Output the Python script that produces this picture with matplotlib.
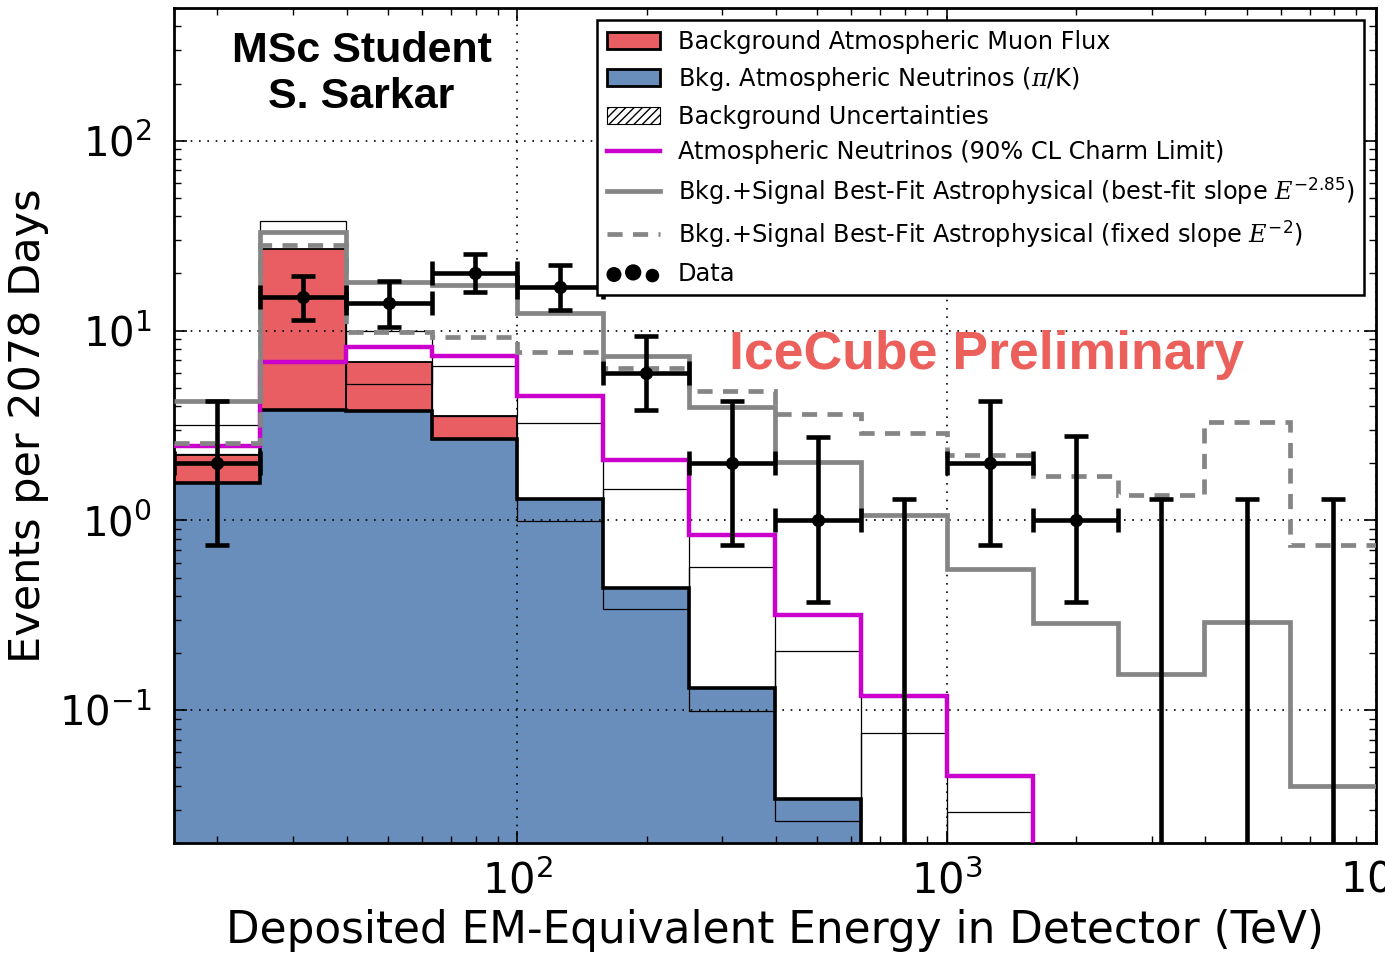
import numpy as np
import matplotlib
matplotlib.use("Agg")
import matplotlib.pyplot as plt
from matplotlib.patches import Patch
from matplotlib.lines import Line2D
from matplotlib.collections import CircleCollection

plt.rcParams['font.family'] = ['DejaVu Sans']
plt.rcParams['mathtext.fontset'] = 'custom'
plt.rcParams['mathtext.rm'] = 'DejaVu Sans'
plt.rcParams['mathtext.it'] = 'DejaVu Serif:italic'
plt.rcParams['mathtext.bf'] = 'DejaVu Sans:bold'

# ---------------- data ----------------
log_edges = [1.2, 1.4, 1.6, 1.8, 2.0, 2.2, 2.4, 2.6, 2.8, 3.0, 3.2, 3.4, 3.6, 3.8, 4.0]

atm_nu = [1.58, 3.83, 3.79, 2.69, 1.29, 0.44, 0.131, 0.034, 0.009, 0.003, 0.001, 0.0005, 0.0002, 0.0001]
muon = [0.64, 23.0, 3.0, 0.87, 0, 0, 0, 0, 0, 0, 0, 0, 0, 0]

unc_lo = [2.25, 6.9, 5.25, 3.56, 0.99, 0.34, 0.099, 0.026, 0.008, 0.003, 0.001, 0.001, 0.001, 0.001]
unc_hi = [3.19, 37.7, 10.0, 6.5, 3.27, 1.46, 0.566, 0.205, 0.076, 0.029, 0.011, 0.005, 0.002, 0.001]

charm = [2.48, 6.87, 8.2, 7.38, 4.5, 2.07, 0.834, 0.318, 0.119, 0.0453, 0.005, 0.002, 0.001, 0.0005]
bestfit = [4.27, 33.0, 18.1, 17.4, 12.3, 7.37, 3.98, 2.02, 1.07, 0.553, 0.288, 0.155, 0.293, 0.040]
fixed_e2 = [2.56, 28.2, 9.8, 9.3, 7.7, 6.33, 4.82, 3.65, 2.9, 2.22, 1.71, 1.36, 3.30, 0.742]

counts = [2, 15, 14, 20, 17, 6, 2, 1, 0, 2, 1, 0, 0, 0]
err_lo = [0.74, 11.3, 10.4, 16.0, 12.8, 3.83, 0.74, 0.37, 0.0, 0.74, 0.37, 0.0, 0.0, 0.0]
err_hi = [4.27, 19.3, 18.3, 25.4, 22.2, 9.4, 4.28, 2.75, 1.29, 4.27, 2.77, 1.29, 1.29, 1.29]

xticks = [1e2, 1e3, 1e4]
yticks = [1e-1, 1e0, 1e1, 1e2]

# colours
c_red = '#E85E62'
c_blue = '#6A8EBB'
c_gray = '#858585'
c_mag = '#CC00CC'
c_txt = '#EC605C'

# ---------------- figure ----------------
fig = plt.figure(figsize=(13.85, 9.59), dpi=100)
ax = fig.add_axes([174/1385, 1-843/959, 1202/1385, 835/959])

edges = 10 ** np.array(log_edges)
left = edges[:-1]
right = edges[1:]
widths = right - left
atm_nu_a = np.array(atm_nu)
muon_a = np.array(muon)

# stacked background
ax.bar(left, atm_nu_a, width=widths, align='edge', color=c_blue, edgecolor='none', zorder=1)
ax.bar(left, muon_a, width=widths, bottom=atm_nu_a, align='edge', color=c_red,
       edgecolor='black', linewidth=1.3, zorder=1)
ax.stairs(atm_nu_a, edges, baseline=None, color='black', linewidth=2.6, zorder=2)

# background uncertainty boxes
lo = np.array(unc_lo)
hi = np.array(unc_hi)
ax.bar(left, hi - lo, width=widths, bottom=lo, align='edge', fill=False,
       edgecolor='black', linewidth=0.9, zorder=3)

# model lines
ax.stairs(charm, edges, baseline=None, color=c_mag, linewidth=3.2, zorder=4)
ax.stairs(bestfit, edges, baseline=None, color=c_gray, linewidth=3.4, zorder=4)
ax.stairs(fixed_e2, edges, baseline=None, color=c_gray, linewidth=3.4,
          linestyle=(0, (3.2, 2.2)), zorder=4)

# data
centers = np.sqrt(left * right)
cnt = np.array(counts, dtype=float)
elo = np.array(err_lo)
ehi = np.array(err_hi)
nz = cnt > 0
ax.errorbar(centers[nz], cnt[nz],
            yerr=[cnt[nz] - elo[nz], ehi[nz] - cnt[nz]],
            xerr=[centers[nz] - left[nz], right[nz] - centers[nz]],
            fmt='o', color='black', markersize=8.5, elinewidth=3.3,
            capsize=8.5, capthick=3.3, zorder=6)
z = ~nz
floor = 1e-4
ax.errorbar(centers[z], ehi[z], yerr=[ehi[z] - floor, np.zeros(z.sum())],
            fmt='none', ecolor='black', elinewidth=3.3, capsize=8.5, capthick=3.3, zorder=6)

# axes
ax.set_xscale('log')
ax.set_yscale('log')
ax.set_xlim(edges[0], edges[-1])
ax.set_ylim(0.02, 500)
ax.set_xticks(xticks)
ax.set_yticks(yticks)
ax.grid(True, which='major', linestyle=(0, (1, 4)), color='black', linewidth=1.2)
ax.tick_params(which='both', direction='in', top=True, right=True)
ax.tick_params(which='major', length=9, width=1.2)
ax.tick_params(which='minor', length=5, width=1.0)
ax.tick_params(axis='y', which='major', labelsize=29, pad=16)
ax.tick_params(axis='x', which='major', labelsize=30, pad=12)
for s in ax.spines.values():
    s.set_linewidth(2)

ax.set_xlabel('Deposited EM-Equivalent Energy in Detector (TeV)', fontsize=31.5, labelpad=5)
ax.set_ylabel('Events per 2078 Days', fontsize=31, labelpad=7)

# texts
ax.text(0.156, 0.921, 'MSc Student\nS. Sarkar', transform=ax.transAxes, ha='center', va='center',
        fontsize=31, fontweight='bold', family='Liberation Sans', linespacing=1.22, zorder=7)
ax.text(0.676, 0.585, 'IceCube Preliminary', transform=ax.transAxes, ha='center', va='center',
        fontsize=38.5, fontweight='bold', family='Liberation Sans', color=c_txt, zorder=7)

# legend
data_handle = CircleCollection(sizes=[60, 90], facecolors='black', edgecolors='black')
handles = [
    Patch(facecolor=c_red, edgecolor='black', linewidth=2),
    Patch(facecolor=c_blue, edgecolor='black', linewidth=2),
    Patch(facecolor='white', edgecolor='black', linewidth=0.8, hatch='////'),
    Line2D([], [], color=c_mag, linewidth=3.2),
    Line2D([], [], color=c_gray, linewidth=3.4),
    Line2D([], [], color=c_gray, linewidth=3.4, linestyle=(0, (3.2, 2.2))),
    data_handle,
]
labels = [
    'Background Atmospheric Muon Flux',
    r'Bkg. Atmospheric Neutrinos ($\pi$/K)',
    'Background Uncertainties',
    'Atmospheric Neutrinos (90% CL Charm Limit)',
    r'Bkg.+Signal Best-Fit Astrophysical (best-fit slope $E^{-2.85}$)',
    r'Bkg.+Signal Best-Fit Astrophysical (fixed slope $E^{-2}$)',
    'Data',
]
leg = ax.legend(handles, labels, loc='upper right', fontsize=17.3, frameon=True, fancybox=False,
                framealpha=1, edgecolor='black', handlelength=2.2, handletextpad=0.75,
                labelspacing=0.48, borderpad=0.4, borderaxespad=0.5, scatterpoints=3)
leg.get_frame().set_linewidth(1.8)
leg.set_zorder(8)

fig.savefig('out.png', dpi=100)
